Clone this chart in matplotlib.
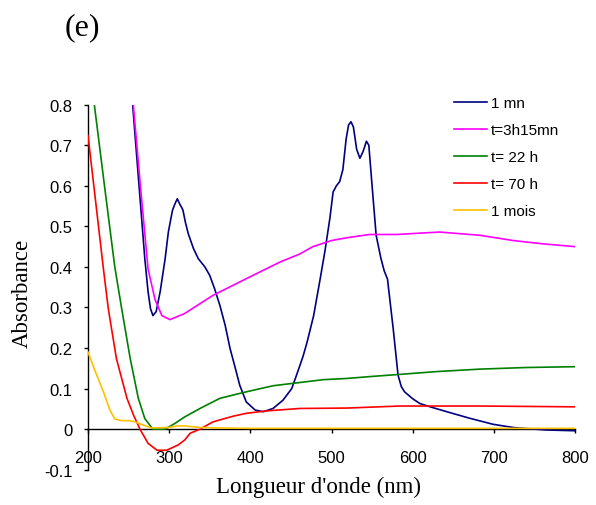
import matplotlib
matplotlib.use("Agg")
import matplotlib.pyplot as plt
from matplotlib import font_manager
from matplotlib.ticker import FuncFormatter

# ---- data ----
wl_1mn = [250, 255, 260, 265, 270, 274, 277, 280, 284, 289, 295, 299, 304, 307, 310, 313,
          315, 317, 320, 323.5, 330, 336, 344, 350, 356, 362.5, 369, 375, 381, 387, 395,
          406, 416, 428, 440, 451, 459, 465, 470, 478, 486, 492, 498, 502, 506, 510, 514,
          518, 521, 524, 527, 531, 535, 539, 543, 546, 550, 555, 561, 565, 569, 573, 576,
          582, 586, 590, 600, 609, 625, 642, 670, 699, 724, 764, 800]
abs_1mn = [0.93, 0.80, 0.673, 0.547, 0.42, 0.339, 0.297, 0.28, 0.29, 0.34, 0.42, 0.486,
           0.539, 0.555, 0.568, 0.555, 0.548, 0.54, 0.51, 0.482, 0.445, 0.42, 0.40, 0.379,
           0.346, 0.305, 0.256, 0.199, 0.154, 0.108, 0.067, 0.047, 0.043, 0.051, 0.071,
           0.10, 0.145, 0.18, 0.215, 0.28, 0.37, 0.44, 0.52, 0.585, 0.60, 0.61, 0.64,
           0.715, 0.75, 0.758, 0.745, 0.69, 0.668, 0.685, 0.71, 0.70, 0.60, 0.478, 0.42,
           0.39, 0.37, 0.30, 0.248, 0.133, 0.105, 0.092, 0.075, 0.063, 0.053, 0.043, 0.027,
           0.012, 0.004, -0.002, -0.004]

wl_3h = [250, 255.8, 265, 274, 282.5, 291, 301, 313, 319, 354, 395, 436.5, 461, 477, 500,
         519, 547, 580, 633, 683, 724, 760, 800]
abs_3h = [0.95, 0.80, 0.59, 0.395, 0.32, 0.28, 0.27, 0.28, 0.285, 0.33, 0.371, 0.412, 0.432,
          0.45, 0.465, 0.472, 0.48, 0.48, 0.486, 0.478, 0.465, 0.457, 0.45]

wl_22h = [200, 207.8, 220, 233, 241.5, 252, 262, 270, 280, 295, 307, 319, 338, 362.5, 395,
          428, 461, 490, 519, 550, 584, 630, 683, 740, 800]
abs_22h = [0.93, 0.80, 0.605, 0.40, 0.297, 0.174, 0.076, 0.026, 0.0, 0.0, 0.014, 0.03,
           0.051, 0.076, 0.092, 0.107, 0.115, 0.122, 0.125, 0.13, 0.135, 0.142, 0.148,
           0.152, 0.154]

wl_70h = [200, 210, 219, 225, 235, 248, 256, 264, 274, 285, 297, 311, 319, 326, 338, 354,
          379, 395, 420, 461, 519, 584, 683, 800]
abs_70h = [0.724, 0.551, 0.395, 0.297, 0.174, 0.076, 0.035, 0.0, -0.035, -0.052, -0.052,
           -0.039, -0.027, -0.01, 0.0, 0.018, 0.032, 0.039, 0.045, 0.051, 0.052, 0.057,
           0.057, 0.055]

wl_1mois = [200, 209, 219, 227, 233, 241.5, 250, 258, 268, 278, 299, 310, 319, 338, 360,
            400, 500, 600, 700, 800]
abs_1mois = [0.19, 0.142, 0.092, 0.047, 0.025, 0.021, 0.021, 0.018, 0.01, 0.003, 0.004,
             0.008, 0.008, 0.004, 0.003, 0.002, 0.002, 0.002, 0.002, 0.002]

labels = ["1 mn", "t=3h15mn", "t= 22 h", "t= 70 h", "1 mois"]
colors = ["#000080", "#ff00ff", "#008000", "#ff0000", "#ffc000"]
x_ticks = [200, 300, 400, 500, 600, 700, 800]
y_ticks = [-0.1, 0, 0.1, 0.2, 0.3, 0.4, 0.5, 0.6, 0.7, 0.8]

tickfont, tick_size, leg_size = "Liberation Sans", 12, 11

W, H = 596, 506
fig = plt.figure(figsize=(W / 100, H / 100), dpi=100)
ax = fig.add_axes([88 / W, 1 - 470.7 / H, (575 - 88) / W, (470.7 - 105.7) / H])

series = [(wl_1mn, abs_1mn), (wl_3h, abs_3h), (wl_22h, abs_22h),
          (wl_70h, abs_70h), (wl_1mois, abs_1mois)]
for (x, y), lab, c in zip(series, labels, colors):
    ax.plot(x, y, color=c, lw=1.2, label=lab, zorder=3)

ax.set_xlim(200, 800)
ax.set_ylim(-0.1, 0.8)
ax.set_xticks(x_ticks)
ax.set_yticks(y_ticks)

def yfmt(v, pos):
    if abs(v) < 1e-9:
        return "0"
    return ("%.1f" % v)

ax.yaxis.set_major_formatter(FuncFormatter(yfmt))

for s in ["top", "right"]:
    ax.spines[s].set_visible(False)
ax.spines["bottom"].set_position(("data", 0))
ax.spines["bottom"].set_linewidth(1.0)
ax.spines["left"].set_linewidth(1.0)

ax.tick_params(axis="x", direction="out", length=3, width=1, pad=12, labelsize=tick_size)
ax.tick_params(axis="y", direction="out", length=3, width=1, pad=8, labelsize=tick_size)
for t in ax.get_xticklabels() + ax.get_yticklabels():
    t.set_fontfamily(tickfont)

fs_px = leg_size * 100 / 72
leg = fig.legend(loc="upper left", bbox_to_anchor=(454 / W, 1 - (103.3 - 0.45 * fs_px + 1.0) / H),
                 frameon=False, borderpad=0, handlelength=33 / fs_px,
                 handletextpad=3.7 / fs_px,
                 labelspacing=(26.7 - 0.9 * fs_px) / fs_px,
                 prop={"family": tickfont, "size": leg_size},
                 borderaxespad=0)

fig.text(82 / W, 1 - 28 / H, "(e)", fontsize=23, family="Liberation Serif",
         ha="center", va="center")
fig.text(22 / W, 1 - 293 / H, "Absorbance", fontsize=16.5, family="Liberation Serif",
         ha="center", va="center", rotation=90)
fig.text(319 / W, 1 - 487 / H, "Longueur d'onde (nm)", fontsize=16.5,
         family="Liberation Serif", ha="center", va="center")

fig.savefig("out.png", dpi=100)
